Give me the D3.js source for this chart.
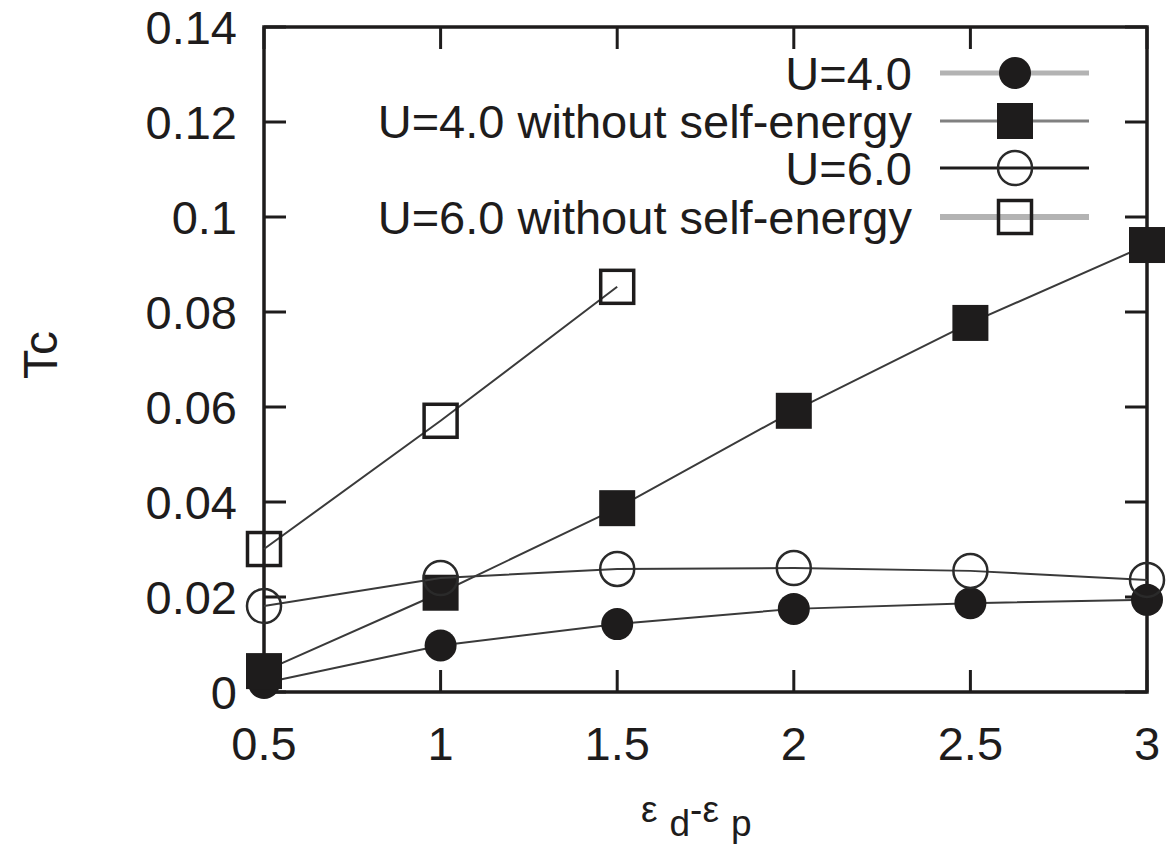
<!DOCTYPE html>
<html><head><meta charset="utf-8">
<script src="https://cdn.jsdelivr.net/npm/d3@7"></script>
<style>body{margin:0;background:#fff}text{font-family:"Liberation Sans",Arial,sans-serif;fill:#1e1c1c}</style>
</head><body>
<script>
const xVals = [0.5, 1, 1.5, 2, 2.5, 3];
const u4 = [0.0019, 0.0098, 0.0143, 0.0175, 0.0187, 0.0194];
const u4NoSE = [0.0044, 0.0209, 0.0387, 0.0592, 0.0777, 0.0941];
const u6 = [0.0181, 0.0240, 0.0259, 0.0261, 0.0255, 0.0236];
const u6NoSEx = [0.5, 1, 1.5];
const u6NoSE = [0.0301, 0.0571, 0.0853];
const xTicks = [0.5, 1, 1.5, 2, 2.5, 3];
const xTickLabels = ["0.5", "1", "1.5", "2", "2.5", "3"];
const yTicks = [0, 0.02, 0.04, 0.06, 0.08, 0.1, 0.12, 0.14];
const yTickLabels = ["0", "0.02", "0.04", "0.06", "0.08", "0.1", "0.12", "0.14"];
const legendLabels = ["U=4.0", "U=4.0 without self-energy", "U=6.0", "U=6.0 without self-energy"];

const W = 1168, H = 847;
const L = 264, R = 1147, T = 27, B = 692;
const svg = d3.select("body").append("svg").attr("width", W).attr("height", H);
const x = d3.scaleLinear().domain([0.5, 3]).range([L, R]);
const y = d3.scaleLinear().domain([0, 0.14]).range([B, T]);
const ink = "#1e1c1c";
const tickLen = 22;

// ticks (mirrored, inward)
const tk = svg.append("g").attr("stroke", ink).attr("stroke-width", 3);
yTicks.forEach(v => {
  tk.append("line").attr("x1", L).attr("x2", L + tickLen).attr("y1", y(v)).attr("y2", y(v));
  tk.append("line").attr("x1", R).attr("x2", R - tickLen).attr("y1", y(v)).attr("y2", y(v));
});
xTicks.forEach(v => {
  tk.append("line").attr("x1", x(v)).attr("x2", x(v)).attr("y1", B).attr("y2", B - tickLen);
  tk.append("line").attr("x1", x(v)).attr("x2", x(v)).attr("y1", T).attr("y2", T + tickLen);
});

// tick labels
svg.append("g").selectAll("text").data(yTicks).join("text")
  .attr("x", L - 27).attr("y", d => y(d)).attr("dy", "0.36em")
  .attr("text-anchor", "end").attr("font-size", 47)
  .text((d, i) => yTickLabels[i]);
svg.append("g").selectAll("text").data(xTicks).join("text")
  .attr("x", d => x(d)).attr("y", 760)
  .attr("text-anchor", "middle").attr("font-size", 47)
  .text((d, i) => xTickLabels[i]);

// axis titles
svg.append("text").attr("transform", "translate(57,355) rotate(-90)")
  .attr("text-anchor", "middle").attr("font-size", 48).text("Tc");
const xl = svg.append("text").attr("x", 641).attr("y", 822).attr("font-size", 37);
xl.append("tspan").text("ε");
xl.append("tspan").attr("dx", 12).attr("dy", 14).text("d");
xl.append("tspan").attr("dy", -14).text("-ε");
xl.append("tspan").attr("dx", 12).attr("dy", 14).text("p");

// frame
svg.append("rect").attr("x", L).attr("y", T).attr("width", R - L).attr("height", B - T)
  .attr("fill", "none").attr("stroke", ink).attr("stroke-width", 3.5);

const series = [
  {xs: xVals, ys: u4, shape: "circle", fill: ink, legStroke: "#b3b3b3", legW: 5},
  {xs: xVals, ys: u4NoSE, shape: "square", fill: ink, legStroke: "#808080", legW: 3},
  {xs: xVals, ys: u6, shape: "circle", fill: "none", legStroke: ink, legW: 3},
  {xs: u6NoSEx, ys: u6NoSE, shape: "square", fill: "none", legStroke: "#b3b3b3", legW: 6},
];

function marker(g, s, cx, cy) {
  if (s.shape === "circle") {
    g.append("circle").attr("cx", cx).attr("cy", cy).attr("r", s.fill === "none" ? 17 : 16)
      .attr("fill", s.fill).attr("stroke", s.fill === "none" ? "#2a2a2a" : "none").attr("stroke-width", 2.5);
  } else {
    const h = s.fill === "none" ? 16.5 : 18;
    g.append("rect").attr("x", cx - h).attr("y", cy - h).attr("width", 2 * h).attr("height", 2 * h)
      .attr("fill", s.fill).attr("stroke", s.fill === "none" ? ink : "none").attr("stroke-width", 3.5);
  }
}

const line = d3.line().x(d => x(d[0])).y(d => y(d[1]));
series.forEach(s => {
  const g = svg.append("g");
  const pts = s.xs.map((v, i) => [v, s.ys[i]]);
  g.append("path").attr("d", line(pts)).attr("fill", "none").attr("stroke", "#3a3a3a").attr("stroke-width", 2);
  pts.forEach(p => marker(g, s, x(p[0]), y(p[1])));
});

// legend
const legY = [73, 121, 168, 217];
series.forEach((s, i) => {
  const g = svg.append("g");
  g.append("text").attr("x", 912).attr("y", legY[i]).attr("dy", "0.36em")
    .attr("text-anchor", "end").attr("font-size", 47).text(legendLabels[i]);
  g.append("line").attr("x1", 940).attr("x2", 1089).attr("y1", legY[i]).attr("y2", legY[i])
    .attr("stroke", s.legStroke).attr("stroke-width", s.legW);
  marker(g, s, 1015, legY[i]);
});
</script>
</body></html>
